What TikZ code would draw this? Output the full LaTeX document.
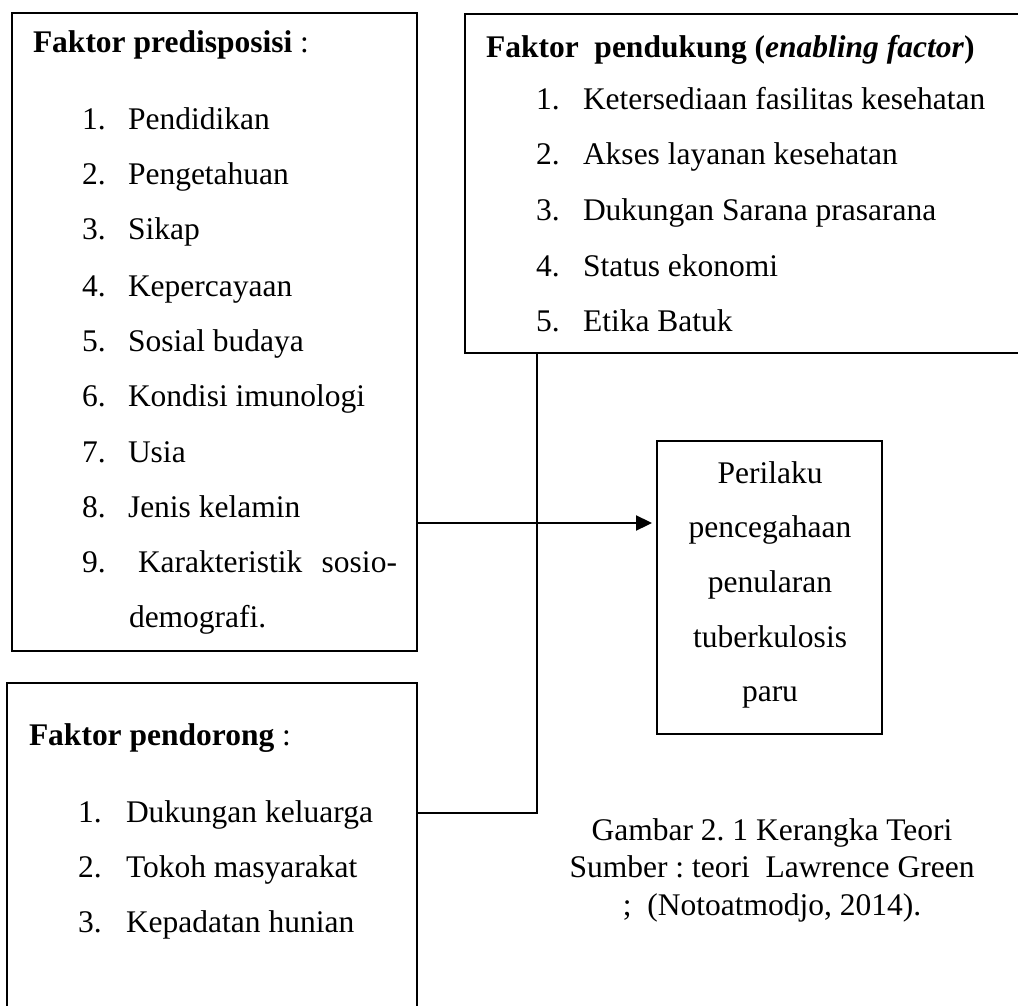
\documentclass[tikz,border=0pt]{standalone}
\usepackage{fontspec}
\setmainfont{Liberation Serif}
\usetikzlibrary{arrows.meta}
\frenchspacing
\begin{document}
\begin{tikzpicture}[x=1pt,y=-1pt,
  box/.style={draw, line width=2.3pt, rectangle, inner sep=0pt, outer sep=0pt},
  txt/.style={anchor=base west, inner sep=0pt, outer sep=0pt, font=\fontsize{31.5}{37}\selectfont},
  ctxt/.style={anchor=base, inner sep=0pt, outer sep=0pt, font=\fontsize{31.5}{37}\selectfont},
  conn/.style={line width=2.3pt, line join=miter},
]
\useasboundingbox (0,0) rectangle (1018,1006);

% boxes
\node[box, minimum width=405pt, minimum height=638pt] (b1) at (214.5,332) {};
\node[box, minimum width=575pt, minimum height=339pt] (b2) at (752.5,183.5) {};
\node[box, minimum width=410pt, minimum height=340pt] (b3) at (212,853) {};
\node[box, minimum width=225pt, minimum height=293pt] (b4) at (769.5,587.5) {};

% box 1
\node[txt] (b1t) at (33,53) {\textbf{Faktor predisposisi} :};
\foreach \n/\t/\y in {1/Pendidikan/130, 2/Pengetahuan/185, 3/Sikap/240, 4/Kepercayaan/296,
  5/Sosial budaya/351, 6/Kondisi imunologi/406, 7/Usia/462, 8/Jenis kelamin/517}{
  \node[txt] (pn\n) at (82,\y) {\n.};
  \node[txt] (p\n) at (128,\y) {\t};
}
\node[txt] (pn9) at (82,572) {9.};
\node[txt] (p9) at (138,572) {\makebox[259pt][s]{Karakteristik sosio-}};
\node[txt] (p9b) at (129,627) {demografi.};

% box 2
\node[txt] (b2t) at (486,58) {\textbf{Faktor\ \ pendukung (\textit{enabling factor})}};
\foreach \n/\t/\y in {1/Ketersediaan fasilitas kesehatan/110, 2/Akses layanan kesehatan/165,
  3/Dukungan Sarana prasarana/220, 4/Status ekonomi/276, 5/Etika Batuk/331}{
  \node[txt] (dn\n) at (536,\y) {\n.};
  \node[txt] (d\n) at (583,\y) {\t};
}

% box 3
\node[txt] (b3t) at (29,745) {\textbf{Faktor pendorong} :};
\foreach \n/\t/\y in {1/Dukungan keluarga/822, 2/Tokoh masyarakat/877, 3/Kepadatan hunian/932}{
  \node[txt] (rn\n) at (78,\y) {\n.};
  \node[txt] (r\n) at (126,\y) {\t};
}

% box 4
\foreach \n/\t/\y in {1/Perilaku/483, 2/pencegahaan/537, 3/penularan/592, 4/tuberkulosis/647, 5/paru/701}{
  \node[ctxt] (o\n) at (770,\y) {\t};
}

% caption
\node[ctxt] (c1) at (772,840) {Gambar 2. 1 Kerangka Teori};
\node[ctxt] (c2) at (772,877) {Sumber : teori\ \ Lawrence Green};
\node[ctxt] (c3) at (772,915) {;\ \ (Notoatmodjo, 2014).};

% connectors
\coordinate (ay) at (0,523);
\draw[conn, -{Triangle[length=16pt,width=15pt]}, shorten >=5pt] (b1.east |- ay) -- (b4.west |- ay);
\coordinate (j) at (537,813);
\draw[conn] (b2.south -| j) -- (j) -- (b3.east |- j);
\end{tikzpicture}
\end{document}
